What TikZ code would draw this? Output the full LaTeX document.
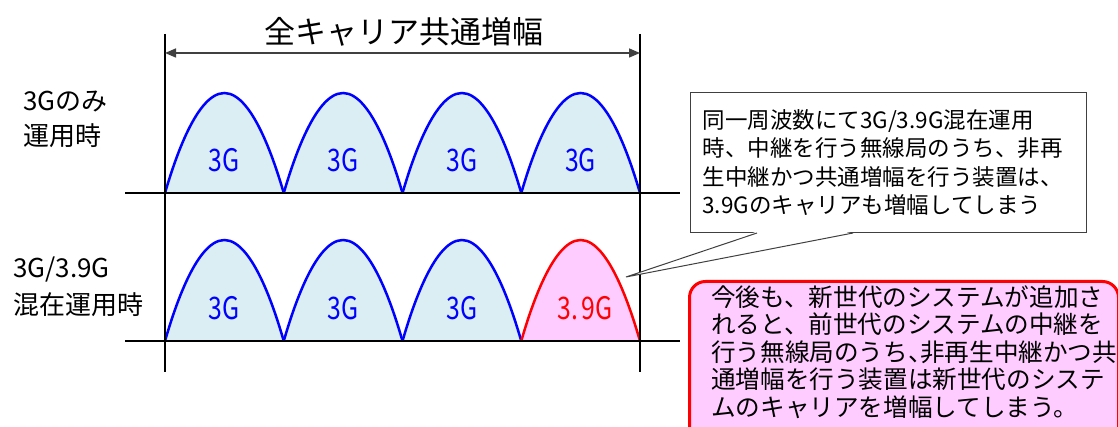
\documentclass[tikz,border=0pt]{standalone}
\usepackage{fontspec}
\setmainfont{Noto Sans CJK JP}
\newfontfamily\narrowfont[FakeStretch=0.8]{Noto Sans CJK JP}
\usetikzlibrary{arrows.meta,calc}
\definecolor{humpblue}{HTML}{DAEEF3}
\definecolor{pinkfill}{HTML}{FFCCFF}
\definecolor{darkline}{HTML}{404040}
\begin{document}
\begin{tikzpicture}[x=1pt,y=-1pt,
  axisline/.style={line width=2pt, black},
  dimarrow/.style={line width=1.5pt, darkline, {Triangle[length=11pt,width=9pt]}-{Triangle[length=11pt,width=9pt]}},
  humpA/.style={draw=blue, fill=humpblue, line width=2.5pt},
  humpB/.style={draw=red, fill=pinkfill, line width=2.5pt},
  humplabel/.style={font=\narrowfont\fontsize{31}{31}\selectfont, inner sep=0pt},
  rowlabel/.style={align=left, anchor=west, inner sep=0pt},
  titletext/.style={font=\fontsize{31}{31}\selectfont, inner sep=0pt},
  calloutbox/.style={draw=darkline, fill=white, line width=1pt, anchor=north west,
    minimum width=396, minimum height=140, text width=372, inner xsep=12pt, inner ysep=0pt,
    align=left, font=\fontsize{22.5}{28.3}\selectfont},
  notebox/.style={draw=red, fill=pinkfill, line width=3pt, rounded corners=16pt, anchor=north west,
    minimum width=429, minimum height=175},
  notetext/.style={align=left, anchor=north west, inner sep=0pt, font=\fontsize{24.6}{27.5}\selectfont}
]
\useasboundingbox (0,0) rectangle (1118,427);
\clip (0,0) rectangle (1118,427);

% humps, top row
\foreach \i in {0,1,2,3} {
  \path[humpA] ({165+118.75*\i},193) parabola bend ({165+118.75*(\i+0.5)},93) ({165+118.75*(\i+1)},193);
}
% humps, bottom row
\foreach \i in {0,1,2} {
  \path[humpA] ({165+118.75*\i},341) parabola bend ({165+118.75*(\i+0.5)},240) ({165+118.75*(\i+1)},341);
}
\path[humpB] ({165+118.75*3},341) parabola bend ({165+118.75*3.5},240) ({165+118.75*4},341);

% axes
\coordinate (vLt) at (165,34);
\coordinate (vLb) at (165,372);
\coordinate (vRt) at (640,34);
\coordinate (vRb) at (640,372);
\coordinate (hTl) at (125,193);
\coordinate (hTr) at (680,193);
\coordinate (hBl) at (125,341);
\coordinate (hBr) at (680,341);
\draw[axisline] (vLt) -- (vLb);
\draw[axisline] (vRt) -- (vRb);
\draw[axisline] (hTl) -- (hTr);
\draw[axisline] (hBl) -- (hBr);

% dimension arrow and title
\coordinate (aL) at (165,53);
\coordinate (aR) at (640,53);
\draw[dimarrow] (aL) -- (aR);
\node[titletext] (title) at (404,32) {全キャリア共通増幅};

% hump labels
\node[humplabel, text=blue] (t1) at (224.4,160) {3G};
\node[humplabel, text=blue] (t2) at (343.1,160) {3G};
\node[humplabel, text=blue] (t3) at (461.9,160) {3G};
\node[humplabel, text=blue] (t4) at (580.6,160) {3G};
\node[humplabel, text=blue] (b1) at (224.4,308) {3G};
\node[humplabel, text=blue] (b2) at (343.1,308) {3G};
\node[humplabel, text=blue] (b3) at (461.9,308) {3G};
\node[humplabel, text=red] (b4) at (585,308) {3.\kern4pt9G};

% row labels
\node[rowlabel, font=\fontsize{26}{35}\selectfont] (rowA) at (23,119.5) {3Gのみ\\運用時};
\node[rowlabel, font=\fontsize{26}{37}\selectfont] (rowB) at (13,286.5) {3G/3.9G\\混在運用時};

% callout
\node[calloutbox] (cb) at (690,92) {同一周波数にて3G/3.9G混在運用\\時、中継を行う無線局のうち、非再\\生中継かつ共通増幅を行う装置は、\\3.9Gのキャリアも増幅してしまう};
\coordinate (cpA) at ($(cb.south west)+(67,0)$);
\coordinate (cpB) at ($(cb.south west)+(163,0)$);
\coordinate (cpA0) at ($(cb.south west)+(67,-1.5)$);
\coordinate (cpB0) at ($(cb.south west)+(163,-1.5)$);
\coordinate (tip) at (626,277);
\fill[white] (cpA0) -- (tip) -- (cpB0) -- cycle;
\draw[darkline, line width=1pt] (cpA) -- (tip) -- (cpB);

% note box
\node[notebox] (nb) at (688,280) {};
\node[notetext] (nt) at (711,285) {今後も、新世代のシステムが追加さ\\れると、前世代のシステムの中継を\\行う無線局のうち、\kern-0.5em 非再生中継かつ共\\通増幅を行う装置は新世代のシステ\\ムのキャリアを増幅してしまう。};
\end{tikzpicture}
\end{document}
